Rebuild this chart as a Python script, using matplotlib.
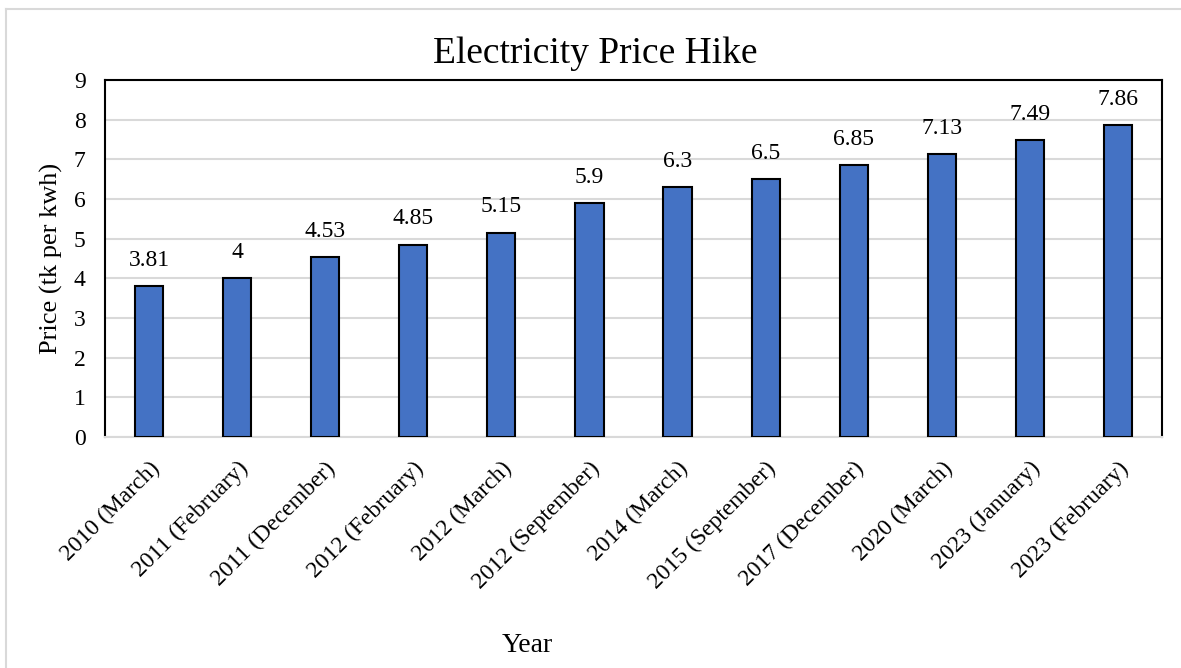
import matplotlib
matplotlib.use("Agg")
import matplotlib.pyplot as plt
from matplotlib.lines import Line2D

categories = ["2010 (March)", "2011 (February)", "2011 (December)", "2012 (February)",
              "2012 (March)", "2012 (September)", "2014 (March)", "2015 (September)",
              "2017 (December)", "2020 (March)", "2023 (January)", "2023 (February)"]
prices = [3.81, 4, 4.53, 4.85, 5.15, 5.9, 6.3, 6.5, 6.85, 7.13, 7.49, 7.86]
value_labels = ["3.81", "4", "4.53", "4.85", "5.15", "5.9", "6.3", "6.5", "6.85", "7.13", "7.49", "7.86"]
y_ticks = [0, 1, 2, 3, 4, 5, 6, 7, 8, 9]

plt.rcParams['font.family'] = ['Liberation Serif', 'DejaVu Serif']

W, H = 1181, 668
fig = plt.figure(figsize=(W / 100, H / 100), dpi=100)
ax = fig.add_axes([105 / W, 1 - 437 / H, (1162 - 105) / W, (437 - 80) / H])

x = list(range(len(categories)))
bars = ax.bar(x, prices, width=0.32, color="#4472C4", edgecolor="black",
              linewidth=1.5, zorder=3)
for b, lab in zip(bars, value_labels):
    ax.annotate(lab, (b.get_x() + b.get_width() / 2, b.get_height()),
                xytext=(0, 11), textcoords="offset points",
                ha="center", va="bottom", fontsize=17)

ax.set_xlim(-0.5, len(categories) - 0.5)
ax.set_ylim(0, 9)
ax.set_yticks(y_ticks)
ax.set_yticklabels([str(v) for v in y_ticks], fontsize=17)
ax.set_xticks(x)
ax.set_xticklabels(categories, rotation=45, ha="right", rotation_mode="anchor",
                   fontsize=17)
ax.tick_params(axis="both", length=0)
ax.tick_params(axis="x", pad=15)
ax.tick_params(axis="y", pad=14)

ax.yaxis.grid(True, color="#d9d9d9", linewidth=1.5, zorder=0)
ax.set_axisbelow(True)
for side in ["left", "top", "right"]:
    ax.spines[side].set_color("black")
    ax.spines[side].set_linewidth(1.5)
ax.spines["bottom"].set_color("#d9d9d9")
ax.spines["bottom"].set_linewidth(1.5)

fig.text(595 / W, 1 - 54 / H, "Electricity Price Hike", ha="center", va="center",
         fontsize=27)
ax.set_ylabel("Price (tk per kwh)", fontsize=19, labelpad=8)
fig.text(527 / W, 1 - 645 / H, "Year", ha="center", va="center", fontsize=20)

# light frame around the chart area
fig.add_artist(Line2D([6 / W, 6 / W], [0, 1 - 9 / H], color="#d9d9d9", linewidth=1.5,
                      transform=fig.transFigure))
fig.add_artist(Line2D([6 / W, 1], [1 - 9 / H, 1 - 9 / H], color="#d9d9d9", linewidth=1.5,
                      transform=fig.transFigure))

fig.savefig("out.png", dpi=100)
